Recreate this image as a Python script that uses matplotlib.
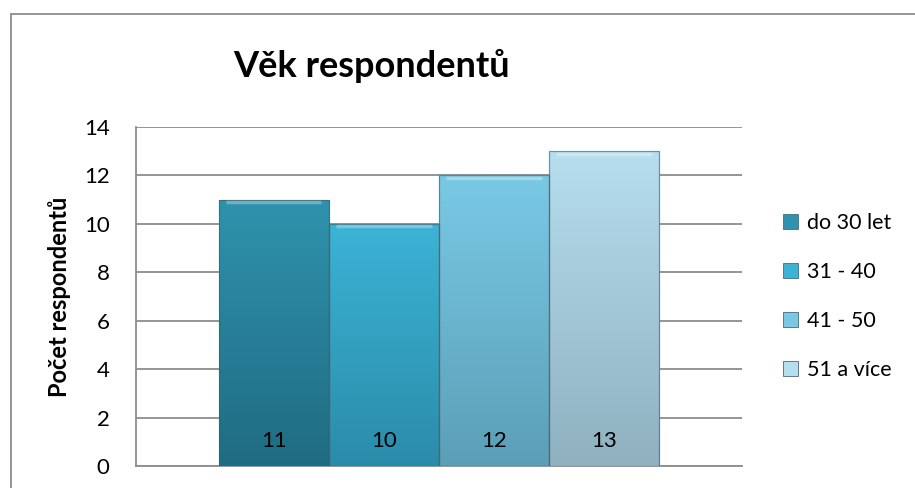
import numpy as np
import matplotlib
matplotlib.use("Agg")
import matplotlib.pyplot as plt
from matplotlib.colors import LinearSegmentedColormap
from matplotlib.patches import Rectangle

plt.rcParams['font.family'] = ['Lato', 'DejaVu Sans']

# data
groups = ["do 30 let", "31 - 40", "41 - 50", "51 a více"]
counts = [11, 10, 12, 13]
title = "Věk respondentů"
ylabel = "Počet respondentů"

# colours (top, bottom) for each series
top_colors = ["#2f93ad", "#3cb3d6", "#79c9e5", "#b6deee"]
bottom_colors = ["#1f6c82", "#2a8ca9", "#5b9fb7", "#8fb1c0"]

fig = plt.figure(figsize=(9.15, 4.88), dpi=100)
ax = fig.add_axes([0.1486, 0.0451, 0.6623, 0.6947])

w = 0.1819
offsets = (np.arange(len(counts)) - (len(counts) - 1) / 2) * w
bars = ax.bar(offsets, counts, width=w, color=top_colors, edgecolor="none",
              label=groups, zorder=2)

# vertical gradient in every bar
for bar, c1, c2 in zip(bars, top_colors, bottom_colors):
    cmap = LinearSegmentedColormap.from_list("g", [c2, c1])
    x0, y0 = bar.get_x(), bar.get_y()
    bw, bh = bar.get_width(), bar.get_height()
    grad = np.linspace(0, 1, 256).reshape(-1, 1)
    im = ax.imshow(grad, extent=(x0, x0 + bw, y0, y0 + bh), origin="lower",
                   cmap=cmap, aspect="auto", zorder=3)
    im.set_clip_path(bar)
    # darker outline + soft light top bevel
    ax.add_patch(Rectangle((x0, y0), bw, bh, fill=False, edgecolor="#3d5f6a",
                           linewidth=0.9, alpha=0.6, zorder=4))
    ax.plot([x0 + 0.012, x0 + bw - 0.012], [y0 + bh - 0.1] * 2,
            color="white", alpha=0.3, linewidth=2.5, zorder=4,
            solid_capstyle="butt")

for b, v in zip(bars, counts):
    ax.text(b.get_x() + b.get_width() / 2, 1.05, str(v), ha="center",
            va="center", fontsize=16, color="black", zorder=5)

ax.set_xlim(-0.5, 0.5)
ax.set_ylim(0, 14)
ax.set_yticks(range(0, 15, 2))
ax.set_xticks([])
ax.tick_params(axis="y", length=0, pad=19, labelsize=16)
for t in ax.get_yticklabels():
    t.set_horizontalalignment("right")
ax.grid(axis="y", color="#8c8c8c", linewidth=1.3, zorder=0)
ax.set_axisbelow(True)
for s in ["top", "right"]:
    ax.spines[s].set_visible(False)
for s in ["left", "bottom"]:
    ax.spines[s].set_color("#8c8c8c")
    ax.spines[s].set_linewidth(1.3)

ax.set_ylabel(ylabel, fontsize=17, fontweight="bold", labelpad=9)

fig.text(372 / 915, 1 - 66 / 488, title, ha="center", va="center",
         fontsize=26, fontweight="bold")

leg = fig.legend(handles=list(bars), labels=groups, loc="center left",
                 bbox_to_anchor=(0.856, 0.393), frameon=False, fontsize=15.5,
                 handlelength=0.7, handleheight=0.7, handletextpad=0.4,
                 labelspacing=1.35, borderpad=0, borderaxespad=0)
for h in leg.legend_handles:
    h.set_edgecolor("#4a6a75")
    h.set_linewidth(0.6)

# chart border
fig.patches.append(Rectangle((10.5 / 915, -0.05), 1.0, 1 - 14.5 / 488 + 0.05,
                             transform=fig.transFigure, fill=False,
                             edgecolor="#8c8c8c", linewidth=1.3))

fig.savefig("out.png", dpi=100)
